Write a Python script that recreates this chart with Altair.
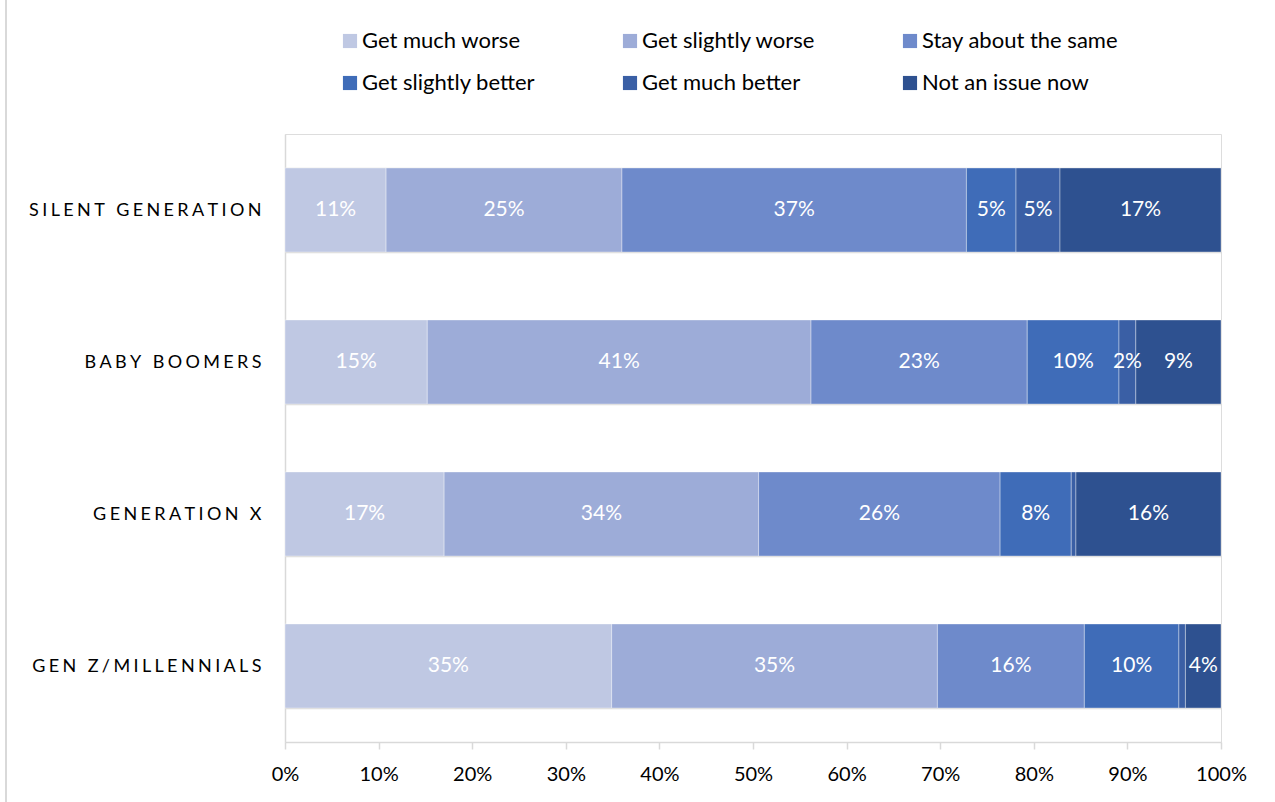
import altair as alt
import pandas as pd

# Survey categories and answer options
generations = ["Silent Generation", "Baby Boomers", "Generation X", "Gen Z/Millennials"]
responses = [
    "Get much worse",
    "Get slightly worse",
    "Stay about the same",
    "Get slightly better",
    "Get much better",
    "Not an issue now",
]
colors = ["#BFC8E3", "#9DACD8", "#6E8ACB", "#3F6CB8", "#3A5FA5", "#2E5190"]

# Share of respondents (%) per generation, one list per answer
much_worse = [10.8, 15.2, 17.0, 34.9]
slightly_worse = [25.2, 41.0, 33.6, 34.8]
about_same = [36.8, 23.1, 25.8, 15.7]
slightly_better = [5.3, 9.8, 7.6, 10.1]
much_better = [4.7, 1.8, 0.5, 0.7]
not_an_issue = [17.2, 9.1, 15.5, 3.8]

series = [much_worse, slightly_worse, about_same, slightly_better, much_better, not_an_issue]

rows = []
for order, (resp, vals) in enumerate(zip(responses, series)):
    for gen, v in zip(generations, vals):
        rows.append({"generation": gen, "response": resp, "value": v, "order": order})
df = pd.DataFrame(rows)

FONT = "Lato"
GRID = "#D9D9D9"

base = alt.Chart(df).transform_stack(
    stack="value",
    groupby=["generation"],
    as_=["x0", "x1"],
    sort=[alt.SortField("order", order="ascending")],
)

y_enc = alt.Y(
    "generation:N",
    sort=generations,
    scale=alt.Scale(paddingInner=0.447, paddingOuter=0.2235),
    axis=alt.Axis(
        title=None,
        domain=True,
        domainColor=GRID,
        domainWidth=1.5,
        ticks=False,
        grid=True,
        gridColor=GRID,
        gridWidth=1.5,
        tickBand="extent",
        labelPadding=24,
        labelLimit=400,
        labelFont=FONT,
        labelFontSize=18,
        labelColor="#000000",
        labelExpr="isValid(datum.value) ? join(split(upper(datum.value), ''), '\u2009\u200a') : ''",
    ),
)

bars = base.mark_bar(stroke="#FFFFFF", strokeWidth=0.8, strokeOpacity=0.45).encode(
    x=alt.X(
        "x0:Q",
        scale=alt.Scale(domain=[0, 100], nice=False),
        axis=alt.Axis(
            title=None,
            values=[0, 10, 20, 30, 40, 50, 60, 70, 80, 90, 100],
            labelExpr="datum.value + '%'",
            labelFlush=False,
            grid=False,
            domainColor=GRID,
            domainWidth=1.5,
            tickColor=GRID,
            tickWidth=1.5,
            tickSize=7,
            labelPadding=15,
            labelFont=FONT,
            labelFontSize=20,
            labelColor="#000000",
        ),
    ),
    x2="x1:Q",
    y=y_enc,
    color=alt.Color(
        "response:N",
        scale=alt.Scale(domain=responses, range=colors),
        legend=alt.Legend(
            title=None,
            orient="none",
            legendX=54,
            legendY=-104,
            direction="horizontal",
            columns=3,
            columnPadding=83,
            rowPadding=20,
            symbolType="square",
            symbolSize=200,
            symbolStrokeWidth=0,
            labelFont=FONT,
            labelFontSize=22,
            labelLimit=400,
            labelColor="#000000",
            labelOffset=1,
        ),
    ),
)

labels = base.transform_filter("datum.value >= 1").transform_calculate(
    mid="(datum.x0 + datum.x1) / 2",
    label="round(datum.value) + '%'",
).mark_text(font=FONT, fontSize=21, color="#FFFFFF").encode(
    x=alt.X("mid:Q"),
    y=alt.Y("generation:N", sort=generations),
    text="label:N",
)

# thin frame line at the far left of the figure
frame = alt.Chart(df).mark_rule(color=GRID, strokeWidth=2).encode(
    x=alt.value(-279), y=alt.value(-134), y2=alt.value(668)
)

chart = (
    alt.layer(bars, labels, frame)
    .properties(
        width=936,
        height=608,
        padding={"left": 285, "top": 134, "right": 54, "bottom": 60},
        autosize=alt.AutoSizeParams(type="none"),
    )
    .configure_view(stroke=None)
    .configure(background="#FFFFFF")
)

chart.save("out.html", embed_options={"renderer": "svg", "actions": False})
